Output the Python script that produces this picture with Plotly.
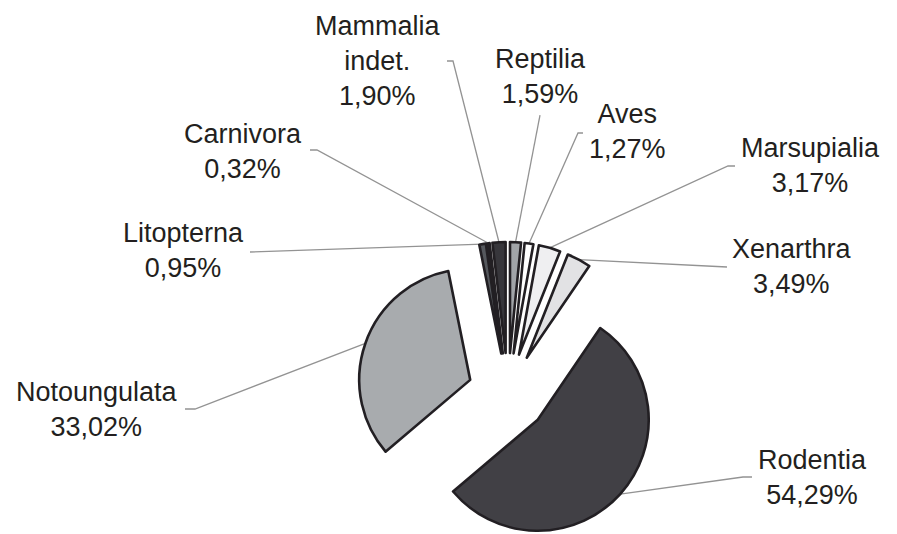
import numpy as np
import plotly.graph_objects as go

# ---- data (clockwise from 12 o'clock) ----
labels = ["Reptilia", "Aves", "Marsupialia", "Xenarthra", "Rodentia",
          "Notoungulata", "Litopterna", "Carnivora", "Mammalia indet."]
display = ["Reptilia", "Aves", "Marsupialia", "Xenarthra", "Rodentia",
           "Notoungulata", "Litopterna", "Carnivora", "Mammalia<br>indet."]
values = [1.59, 1.27, 3.17, 3.49, 54.29, 33.02, 0.95, 0.32, 1.90]

# ---- style ----
colors = ["#a1a4a8", "#5e6166", "#efeff1", "#e2e2e4", "#414045",
          "#a8abae", "#55585d", "#1c1b1f", "#37363b"]
W, H = 897, 534
CX, CY = 508, 393      # pie centre (px)
R = 111                # radius (px)
D = 40                 # explode distance (px)
OUTLINE = "#221f23"

# label anchor positions (px, block centre) and leader start points
label_pos = [(540, 76), (627, 132), (810, 165), (792, 266), (812, 477),
             (97, 409), (183, 250), (243, 151), (378, 61)]
leader_start = [[(540, 115)], [(583, 133), (578, 133)], [(735, 166), (728, 166)],
                [(727, 267)], [(752, 477), (743, 477)], [(185, 409), (195, 409)],
                [(250, 252)], [(310, 150), (317, 150)], [(447, 61), (453, 61)]]

vals = np.array(values, dtype=float)
total = vals.sum()
ends = np.cumsum(vals) / total * 360.0
starts = ends - vals / total * 360.0
mids = np.radians((starts + ends) / 2.0)

fig = go.Figure()
n = len(values)
for i in range(n):
    ux, uy = np.sin(mids[i]), -np.cos(mids[i])
    pcx, pcy = CX + D * ux, CY + D * uy
    dom_x = [(pcx - R) / W, (pcx + R) / W]
    dom_y = [1 - (pcy + R) / H, 1 - (pcy - R) / H]
    cols = ["rgba(0,0,0,0)"] * n
    cols[i] = colors[i]
    widths = [0] * n
    widths[i] = 2.6
    marker = dict(colors=cols, line=dict(color=OUTLINE, width=widths))
    if labels[i] == "Aves":
        shapes_ = [""] * n
        shapes_[i] = "."
        marker["pattern"] = dict(shape=shapes_, fgcolor="#ffffff", size=6, solidity=0.3)
    fig.add_trace(go.Pie(
        labels=labels, values=values, sort=False, direction="clockwise",
        rotation=0, textinfo="none", showlegend=False,
        domain=dict(x=dom_x, y=dom_y), marker=marker,
        hovertemplate="%{label}: %{value}%<extra></extra>",
    ))

shapes = []
annotations = []
for i in range(n):
    ux, uy = np.sin(mids[i]), -np.cos(mids[i])
    ex, ey = CX + (D + R) * ux, CY + (D + R) * uy
    pts = leader_start[i] + [(ex, ey)]
    path = "M " + " L ".join(f"{x / W:.5f},{1 - y / H:.5f}" for x, y in pts)
    shapes.append(dict(type="path", path=path, xref="paper", yref="paper",
                       line=dict(color="#939393", width=1.3), layer="below"))
    txt = f"{display[i]}<br>{values[i]:.2f}".replace(".", ",") + "%"
    txt = txt.replace("indet,", "indet.")
    lx, ly = label_pos[i]
    annotations.append(dict(text=txt, x=lx / W, y=1 - ly / H, xref="paper", yref="paper",
                            xanchor="center", yanchor="middle", showarrow=False,
                            align="center",
                            font=dict(family="Liberation Sans, Arial, sans-serif",
                                      size=27, color="#231f20")))

fig.update_layout(width=W, height=H, margin=dict(l=0, r=0, t=0, b=0),
                  paper_bgcolor="white", plot_bgcolor="white",
                  shapes=shapes, annotations=annotations)
fig.write_html("out.html", config={"displayModeBar": False},
               post_script="document.body.style.margin='0';")
